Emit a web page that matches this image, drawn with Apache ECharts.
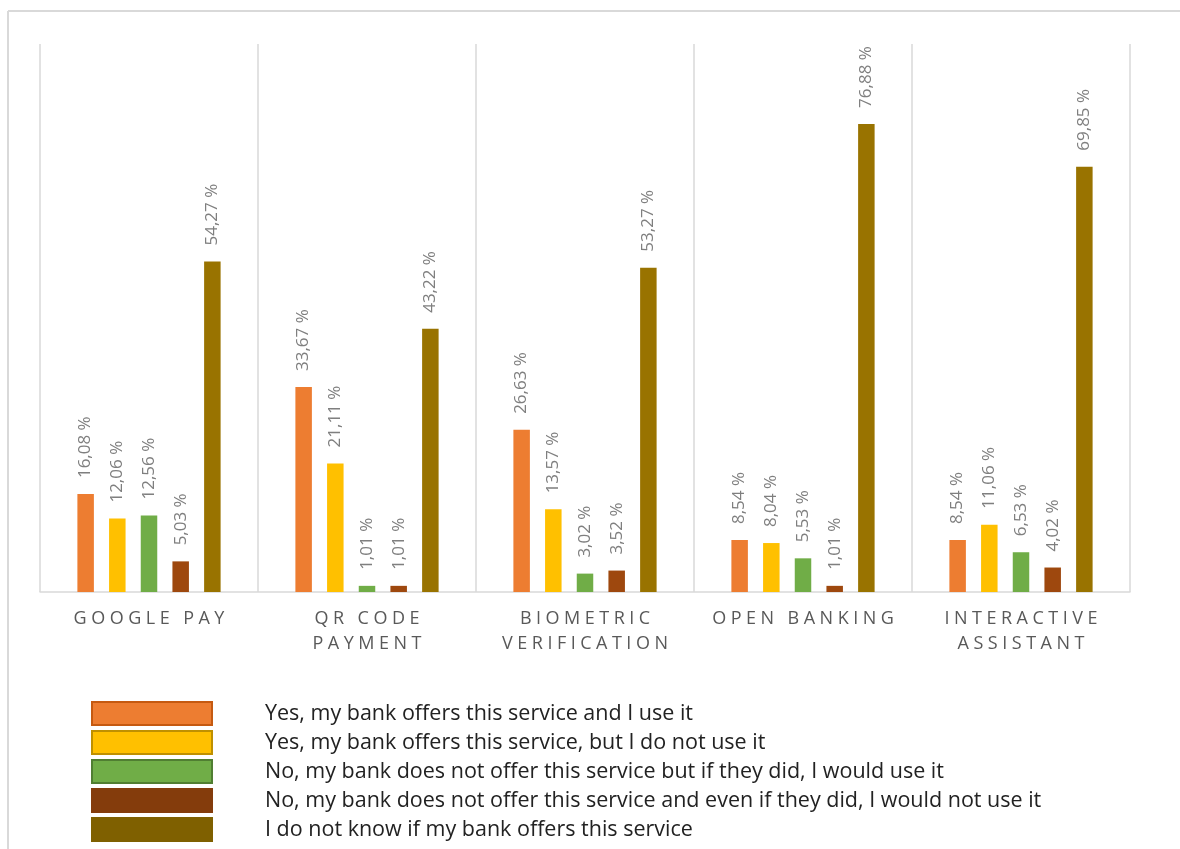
<!DOCTYPE html>
<html>
<head>
<meta charset="utf-8">
<script src="https://cdn.jsdelivr.net/npm/echarts@6/dist/echarts.min.js"></script>
<style>
html,body{margin:0;padding:0;background:#fff;}
#chart{width:1180px;height:849px;}
</style>
</head>
<body>
<div id="chart"></div>
<script>
// ---- data ----
const categories = ['GOOGLE PAY', 'QR CODE\nPAYMENT', 'BIOMETRIC\nVERIFICATION', 'OPEN BANKING', 'INTERACTIVE\nASSISTANT'];
const seriesNames = [
  'Yes, my bank offers this service and I use it',
  'Yes, my bank offers this service, but I do not use it',
  'No, my bank does not offer this service but if they did, I would use it',
  'No, my bank does not offer this service and even if they did, I would not use it',
  'I do not know if my bank offers this service'
];
const yesUse      = [16.08, 33.67, 26.63, 8.54, 8.54];
const yesNotUse   = [12.06, 21.11, 13.57, 8.04, 11.06];
const noWouldUse  = [12.56, 1.01, 3.02, 5.53, 6.53];
const noWouldNot  = [5.03, 1.01, 3.52, 1.01, 4.02];
const dontKnow    = [54.27, 43.22, 53.27, 76.88, 69.85];

const barColors    = ['#ED7D31', '#FFC000', '#70AD47', '#9E480E', '#997300'];
const legendColors = ['#ED7D31', '#FFC000', '#70AD47', '#843C0C', '#7F6000'];
const legendBorders = ['#C55A11', '#BF9000', '#507E32', '#843C0C', '#7F6000'];

const allSeries = [yesUse, yesNotUse, noWouldUse, noWouldNot, dontKnow];

function spaced(s) {
  return s.split('\n').map(line =>
    line.split(' ').map(w => w.split('').join('\u2005')).join('\u2002\u2005')
  ).join('\n');
}

const chart = echarts.init(document.getElementById('chart'), null, {renderer: 'canvas'});
chart.setOption({
  animation: false,
  backgroundColor: '#fff',
  grid: {left: 40, right: 50, top: 44, bottom: 257, containLabel: false},
  xAxis: {
    type: 'category',
    data: categories,
    boundaryGap: true,
    axisLine: {show: true, lineStyle: {color: '#d9d9d9', width: 1.5}},
    axisTick: {show: false},
    splitLine: {show: true, interval: 0, showMinLine: true, showMaxLine: true, lineStyle: {color: '#d9d9d9', width: 1.5}},
    axisLabel: {
      interval: 0, hideOverlap: false,
      color: '#595959', fontSize: 18, fontFamily: 'Open Sans', lineHeight: 25, margin: 14,
      formatter: v => spaced(v)
    }
  },
  yAxis: {
    type: 'value', min: 0, max: 90, interval: 10,
    show: false, splitLine: {show: false}
  },
  legend: {
    orient: 'vertical', left: 86, top: 696, height: 150,
    itemWidth: 120, itemHeight: 23, itemGap: 4,
    icon: 'rect',
    textStyle: {fontFamily: 'Open Sans', fontSize: 21.5, color: '#222', padding: [0, 0, 0, 48], lineHeight: 24},
    data: seriesNames.map((n, i) => ({
      name: n,
      itemStyle: {color: legendColors[i], borderColor: legendBorders[i], borderWidth: 2}
    }))
  },
  series: allSeries.map((d, i) => ({
    name: seriesNames[i],
    type: 'bar',
    data: d,
    barWidth: 16.5,
    barGap: '92%',
    itemStyle: {color: barColors[i]},
    label: {
      show: true, position: 'top', rotate: 90, distance: 16,
      align: 'left', verticalAlign: 'middle',
      color: '#7f7f7f', fontSize: 17, fontFamily: 'Open Sans',
      formatter: p => p.value.toFixed(2).replace('.', ',') + ' %'
    }
  })),
  graphic: [
    {type: 'line', shape: {x1: 8, y1: 11, x2: 1180, y2: 11}, style: {stroke: '#d9d9d9', lineWidth: 2}},
    {type: 'line', shape: {x1: 8, y1: 11, x2: 8, y2: 849}, style: {stroke: '#d9d9d9', lineWidth: 2}}
  ]
});
</script>
</body>
</html>
